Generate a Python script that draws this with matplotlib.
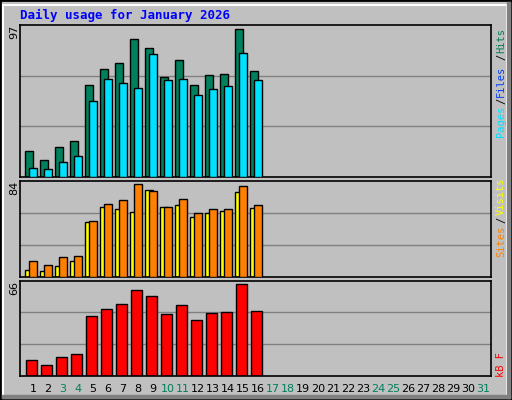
import matplotlib
matplotlib.use("Agg")
import matplotlib.pyplot as plt
from matplotlib.patches import Rectangle

days = list(range(1, 32))
weekend = [3, 4, 10, 11, 17, 18, 24, 25, 31]
hits = [16.4, 10.7, 19, 22.8, 58.5, 68.7, 72.5, 87.9, 82.1, 63.6, 74.5, 58.5, 64.9, 65.5, 94.3, 67.4]
files = [5.5, 4.9, 9.4, 13.2, 48.3, 62.3, 59.8, 56.6, 78.3, 61.7, 62.3, 52.1, 56, 57.9, 78.9, 61.7]
sites = [13.4, 9.9, 16.9, 17.8, 48.4, 63.3, 66.8, 80.8, 74.7, 60.7, 67.7, 55.4, 58.9, 58.9, 79, 62.4]
visits = [5.5, 4.7, 9, 13.4, 47.5, 60.7, 58.9, 56.3, 75.5, 60.7, 62.4, 51.9, 55.4, 57.2, 73.8, 59.8]
kbytes = [10.7, 7.2, 12.7, 14.8, 41.2, 46.1, 49.5, 59.3, 55.1, 42.6, 48.8, 38.4, 43.3, 44, 63.4, 44.7]
max_top, max_mid, max_bot = 97, 84, 66

W, H = 512, 400
fig = plt.figure(figsize=(5.12, 4.0), dpi=100)
fig.patch.set_facecolor("#C0C0C0")
fig.add_artist(Rectangle((0, 0), 1, 1, transform=fig.transFigure, fill=False, edgecolor="black", lw=2))
fig.add_artist(Rectangle((3/W, 3/H), (W-8)/W, (H-8)/H, transform=fig.transFigure, fill=False, edgecolor="white", lw=1.5))
fig.add_artist(Rectangle((507/W, 2/H), 3/W, 396/H, transform=fig.transFigure, color="#808080"))
fig.add_artist(Rectangle((2/W, 2/H), 508/W, 3/H, transform=fig.transFigure, color="#808080"))

fig.text(20/W, 1-15/H, "Daily usage for January 2026", color="#0000FF", fontsize=9,
         fontweight="bold", family="DejaVu Sans Mono", va="center", ha="left")

x0, x1 = 20, 491
def mkax(ytop, ybot, ymax):
    ax = fig.add_axes([x0/W, 1-ybot/H, (x1-x0)/W, (ybot-ytop)/H])
    ax.set_facecolor("#C0C0C0")
    ax.set_xlim((x0-16)/15, (x1-16)/15)
    ax.set_ylim(0, ymax)
    for g in (1/3, 2/3):
        ax.axhline(ymax*g, color="#808080", lw=1, zorder=0)
    ax.set_xticks([]); ax.set_yticks([])
    for s in ax.spines.values():
        s.set_color("black"); s.set_linewidth(1.2)
    ax.text(-0.013, 1.0, str(ymax), transform=ax.transAxes, rotation=90, ha="center", va="top", fontsize=8)
    return ax

n = len(hits)
d = days[:n]
ax1 = mkax(25, 177, max_top)
ax1.bar([v - 0.38 for v in d], hits, width=0.49, align="edge", color="#00805C", edgecolor="black", lw=1, zorder=2)
ax1.bar([v - 0.11 for v in d], files, width=0.49, align="edge", color="#00E0FF", edgecolor="black", lw=1, zorder=3)

ax2 = mkax(180.7, 276.7, max_mid)
ax2.bar([v - 0.38 for v in d], visits, width=0.49, align="edge", color="#FFFF00", edgecolor="black", lw=1, zorder=2)
ax2.bar([v - 0.11 for v in d], sites, width=0.49, align="edge", color="#FF8000", edgecolor="black", lw=1, zorder=3)

ax3 = mkax(280.7, 375.7, max_bot)
ax3.bar([v - 0.31 for v in d], kbytes, width=0.69, align="edge", color="#FF0000", edgecolor="black", lw=1, zorder=2)

for day in days:
    fig.text((16 + 15*day + 2)/W, 1-389/H, str(day), ha="center", va="center", fontsize=8,
             color="#00805C" if day in weekend else "black")

def vlabel(parts):
    for txt, col, y in parts:
        fig.text(501/W, 1-y/H, txt, rotation=90, color=col, fontsize=7.5,
                 family="DejaVu Sans Mono", ha="center", va="bottom")

vlabel([("Pages", "#00E0FF", 137), ("/", "black", 104), ("Files", "#0040FF", 97),
        ("/", "black", 60), ("Hits", "#00805C", 53)])
vlabel([("Sites", "#FF8000", 257), ("/", "black", 223), ("Visits", "#FFFF00", 215)])
vlabel([("kB F", "#FF0000", 377)])

fig.savefig("out.png", dpi=100, facecolor=fig.get_facecolor())
